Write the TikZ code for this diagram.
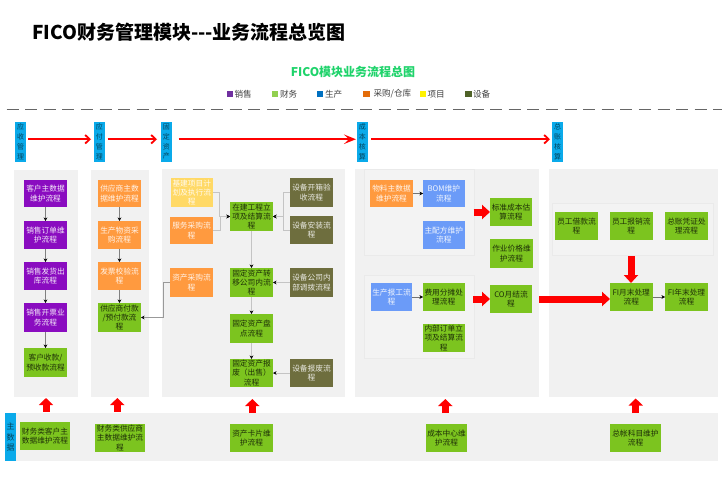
\documentclass[tikz,border=0pt]{standalone}
\usepackage{fontspec}
\setmainfont{Noto Sans CJK SC}
\usetikzlibrary{arrows.meta,calc}
\definecolor{panelgray}{HTML}{F1F1F1}
\definecolor{subgray}{HTML}{F3F3F3}
\definecolor{cyanhead}{HTML}{0AAAEA}
\definecolor{cpurple}{HTML}{8A0CC0}
\definecolor{cgreen}{HTML}{7CC41F}
\definecolor{corange}{HTML}{FF9A3F}
\definecolor{cblue}{HTML}{6B9BF8}
\definecolor{colive}{HTML}{6E6E3E}
\definecolor{cyellow}{HTML}{FFD966}
\definecolor{cline}{HTML}{C4C4C4}
\definecolor{ctitlegreen}{HTML}{1FD36B}
\tikzset{
  boxbase/.style={inner sep=0pt,outer sep=0pt,align=center,font=\fontsize{7.7}{9.3}\selectfont},
  purplebox/.style={boxbase,fill=cpurple,text=white!90!cpurple},
  greenbox/.style={boxbase,fill=cgreen,text=black!75!cgreen},
  orangebox/.style={boxbase,fill=corange,text=white!88!corange},
  yellowbox/.style={boxbase,fill=cyellow,text=white!88!cyellow},
  bluebox/.style={boxbase,fill=cblue,text=white!90!cblue},
  olivebox/.style={boxbase,fill=colive,text=white!85!colive},
  panel/.style={inner sep=0pt,outer sep=0pt,fill=panelgray},
  subpanel/.style={inner sep=0pt,outer sep=0pt,fill=subgray,draw=panelgray!97!black,line width=0.4pt},
  headbox/.style={inner sep=0pt,outer sep=0pt,fill=cyanhead,align=center,text=black!60!cyanhead,font=\fontsize{7}{9.8}\selectfont},
  mainhead/.style={headbox,font=\fontsize{8}{10.3}\selectfont},
  flow/.style={draw=cline,line width=0.7pt,-{Stealth[length=3.5pt,width=3.5pt,black]}},
  darkflow/.style={draw=black!50,line width=0.5pt,-{Stealth[length=3.5pt,width=3.5pt,black]}},
  thinflow/.style={draw=black!55,line width=0.35pt,-{Stealth[length=3.5pt,width=3.5pt,black]}},
  redline/.style={draw=red,line width=1.8pt,-{Straight Barb[length=4.5pt,width=8.5pt]}},
  redheavy/.style={draw=red,line width=1.9pt,-{Stealth[length=12pt,width=9.5pt,inset=5pt]}},
  blockup/.style={draw=red,line width=7pt,-{Triangle[length=7pt,width=14pt]}},
  blockwide/.style={draw=red,line width=7pt,-{Triangle[length=8pt,width=14pt]}},
  legendmark/.style={inner sep=0pt,outer sep=0pt,minimum width=6pt,minimum height=6pt},
  legendtext/.style={inner sep=0pt,outer sep=0pt,anchor=west,text=black!75,font=\fontsize{8.6}{10}\selectfont},
}
\newcommand{\bx}[7]{\node[#2,minimum width={(#5-#3)*1pt},minimum height={(#6-#4)*1pt}] (#1) at ({(#3+#5)/2},{(#4+#6)/2}) {#7};}
\begin{document}
\begin{tikzpicture}[x=1pt,y=-1pt]
\useasboundingbox (0,0) rectangle (722,500);
% titles
\node[inner sep=0pt,anchor=west,font=\fontsize{19}{22}\selectfont\bfseries] (title) at (32,32) {FICO财务管理模块-{}-{}-业务流程总览图};
\node[inner sep=0pt,font=\fontsize{12}{14}\selectfont\bfseries,text=ctitlegreen] (subtitle) at (353,72) {FICO模块业务流程总图};
% legend
\node[legendmark,fill={rgb,255:red,112;green,48;blue,160}] (l1) at (229.7,94) {};
\node[legendtext] (lt1) at (234.5,94) {销售};
\node[legendmark,fill={rgb,255:red,146;green,208;blue,80}] (l2) at (275,94) {};
\node[legendtext] (lt2) at (280,94) {财务};
\node[legendmark,fill={rgb,255:red,0;green,112;blue,192}] (l3) at (320,94) {};
\node[legendtext] (lt3) at (325,94) {生产};
\node[legendmark,fill={rgb,255:red,227;green,108;blue,10},minimum width=7pt] (l4) at (366.5,94) {};
\node[legendtext] (lt4) at (373.5,94) {采购/仓库};
\node[legendmark,fill=yellow] (l5) at (422.5,94) {};
\node[legendtext] (lt5) at (427.5,94) {项目};
\node[legendmark,fill={rgb,255:red,79;green,98;blue,40},minimum width=7pt] (l6) at (468,94) {};
\node[legendtext] (lt6) at (473,94) {设备};
\coordinate (dashL) at (6.5,109);
\coordinate (dashR) at (722,109);
\draw[black!60,line width=0.9pt,dash pattern=on 12pt off 6.6pt] (dashL) -- (dashR);
% panels
\bx{p1}{panel}{14}{170}{77.5}{397}{}
\bx{p2}{panel}{91}{170}{149}{397}{}
\bx{p3}{panel}{162}{169}{345}{397}{}
\bx{p4}{panel}{355}{169}{539}{397}{}
\bx{p5}{panel}{549}{169}{718}{397}{}
\bx{band}{panel}{16}{413}{718}{461}{}
\bx{s1}{subpanel}{364}{169}{474}{255}{}
\bx{s2}{subpanel}{364}{275}{474}{358}{}
\bx{s3}{subpanel}{552}{203}{713}{255}{}
% headers
\bx{h1}{headbox}{15}{122}{26}{161.5}{应\\收\\管\\理}
\bx{h2}{headbox}{94}{122}{104.5}{161.5}{应\\付\\管\\理}
\bx{h3}{headbox}{161}{122}{171.5}{161.5}{固\\定\\资\\产}
\bx{h4}{headbox}{357}{122}{367.5}{161.5}{成\\本\\核\\算}
\bx{h5}{headbox}{552}{122}{563}{161.5}{总\\账\\核\\算}
\bx{h6}{mainhead}{5}{413}{16}{461}{主\\数\\据}
% red header arrows
\draw[redline,shorten <=2pt,shorten >=3pt] ([yshift=2.5pt]h1.east) -- ([yshift=2.5pt]h2.west);
\draw[redline,shorten <=3pt,shorten >=4pt] ([yshift=2.5pt]h2.east) -- ([yshift=2.5pt]h3.west);
\draw[redheavy,shorten <=7pt,shorten >=1pt] ([yshift=2.5pt]h3.east) -- ([yshift=2.5pt]h4.west);
\draw[redline,shorten <=3.5pt,shorten >=2pt] ([yshift=2.5pt]h4.east) -- ([yshift=2.5pt]h5.west);
% column 1
\bx{a1}{purplebox}{24}{180}{67}{207}{客户主数据\\维护流程}
\bx{a2}{purplebox}{24}{221}{67}{248.5}{销售订单维\\护流程}
\bx{a3}{purplebox}{24}{262}{67}{290}{销售发货出\\库流程}
\bx{a4}{purplebox}{24}{303}{67}{332}{销售开票业\\务流程}
\bx{a5}{greenbox}{24}{348}{67}{377}{客户收款/\\预收款流程}
% column 2
\bx{b1}{orangebox}{98}{180}{141}{207}{供应商主数\\据维护流程}
\bx{b2}{orangebox}{98}{221}{141}{248.5}{生产物资采\\购流程}
\bx{b3}{orangebox}{98}{262}{141}{290}{发票校验流\\程}
\bx{b4}{greenbox}{98}{303}{141}{332}{供应商付款\\/预付款流\\程}
% column 3
\bx{c1}{yellowbox}{171}{178}{212.5}{207}{基建项目计\\划及执行流\\程}
\bx{c2}{orangebox}{170}{217}{213}{244}{服务采购流\\程}
\bx{c3}{orangebox}{170}{268}{213}{297}{资产采购流\\程}
\bx{d1}{greenbox}{230}{202}{273}{231}{在建工程立\\项及结算流\\程}
\bx{d2}{greenbox}{230}{268}{273}{297}{固定资产转\\移公司内流\\程}
\bx{d3}{greenbox}{230}{314}{273}{343}{固定资产盘\\点流程}
\bx{d4}{greenbox}{230}{359}{273}{387}{固定资产报\\废（出售）\\流程}
\bx{e1}{olivebox}{290}{178}{333}{207}{设备开箱验\\收流程}
\bx{e2}{olivebox}{290}{216}{333}{244}{设备安装流\\程}
\bx{e3}{olivebox}{290}{268}{333}{297}{设备公司内\\部调拨流程}
\bx{e4}{olivebox}{290}{359}{333}{387}{设备报废流\\程}
% column 4
\bx{f1}{orangebox}{370}{180}{413}{207}{物料主数据\\维护流程}
\bx{f2}{bluebox}{423}{180}{464.5}{207}{BOM维护\\流程}
\bx{f3}{bluebox}{423}{221}{464.5}{248.5}{主配方维护\\流程}
\bx{f4}{greenbox}{490}{198}{532}{226}{标准成本估\\算流程}
\bx{f5}{greenbox}{490}{239}{533}{268}{作业价格维\\护流程}
\bx{g1}{bluebox}{371}{283}{412}{311}{生产报工流\\程}
\bx{g2}{greenbox}{423}{283}{464.5}{311}{费用分摊处\\理流程}
\bx{g3}{greenbox}{423}{324}{464.5}{352}{内部订单立\\项及结算流\\程}
\bx{g4}{greenbox}{490}{285}{532}{313}{CO月结流\\程}
% column 5
\bx{i1}{greenbox}{555}{212}{598}{240}{员工借款流\\程}
\bx{i2}{greenbox}{610}{212}{652.5}{240}{员工报销流\\程}
\bx{i3}{greenbox}{665}{212}{708}{240}{总账凭证处\\理流程}
\bx{i4}{greenbox}{610}{283}{652.5}{311}{FI月末处理\\流程}
\bx{i5}{greenbox}{665}{283}{708}{311}{FI年末处理\\流程}
% master data
\bx{m1}{greenbox}{20}{422}{70}{450}{财务类客户主\\数据维护流程}
\bx{m2}{greenbox}{95}{424}{145}{452}{财务类供应商\\主数据维护流\\程}
\bx{m3}{greenbox}{230}{424}{273}{452}{资产卡片维\\护流程}
\bx{m4}{greenbox}{426}{424}{467}{452}{成本中心维\\护流程}
\bx{m5}{greenbox}{610}{424}{661}{452}{总帐科目维护\\流程}
% thin connectors
\foreach \u/\v in {a1/a2,a2/a3,a3/a4,a4/a5,b1/b2,b2/b3,b3/b4}{
  \draw[darkflow] (\u.south) -- (\v.north);
}
\foreach \u/\v in {d1/d2,d2/d3,d3/d4}{
  \draw[flow] (\u.south) -- (\v.north);
}
\draw[flow] (c1.east) -- ++(7,0) |- (d1.west);
\draw[flow] (c2.east) -- ++(7,0) |- (d1.west);
\draw[flow] (e1.west) -- ++(-7,0) |- (d1.east);
\draw[flow] (e2.west) -- ++(-7,0) |- (d1.east);
\draw[flow] (e3.west) -- (d2.east);
\draw[flow] (e4.west) -- (d4.east);
\draw[darkflow,draw=black!40] (c3.west) -- ++(-7,0) |- (b4.east);
\draw[thinflow] (f1.east) -- (f2.west);
\draw[thinflow] (g1.east) -- (g2.west);
\draw[thinflow] (i4.east) -- (i5.west);
% block arrows
\coordinate (u1) at (46,411.5);\coordinate (v1) at (46,398);
\coordinate (u2) at (117.3,411.5);\coordinate (v2) at (117.3,398);
\coordinate (u3) at (252.3,413);\coordinate (v3) at (252.3,399);
\coordinate (u4) at (445.3,413);\coordinate (v4) at (445.3,399);
\coordinate (u5) at (635.7,413);\coordinate (v5) at (635.7,398.5);
\foreach \k in {1,...,5}{\draw[blockup] (u\k) -- (v\k);}
\coordinate (w1) at (473.5,212);
\coordinate (w2) at (473,299);
\coordinate (w3) at (539,299);
\draw[blockwide] (w1) -- (f4.west |- w1);
\draw[blockwide] (w2) -- (g4.west |- w2);
\draw[blockwide] (w3) -- (i4.west |- w3);
\coordinate (w4) at (631,256);
\draw[blockwide] (w4) -- (w4 |- i4.north);
\end{tikzpicture}
\end{document}
